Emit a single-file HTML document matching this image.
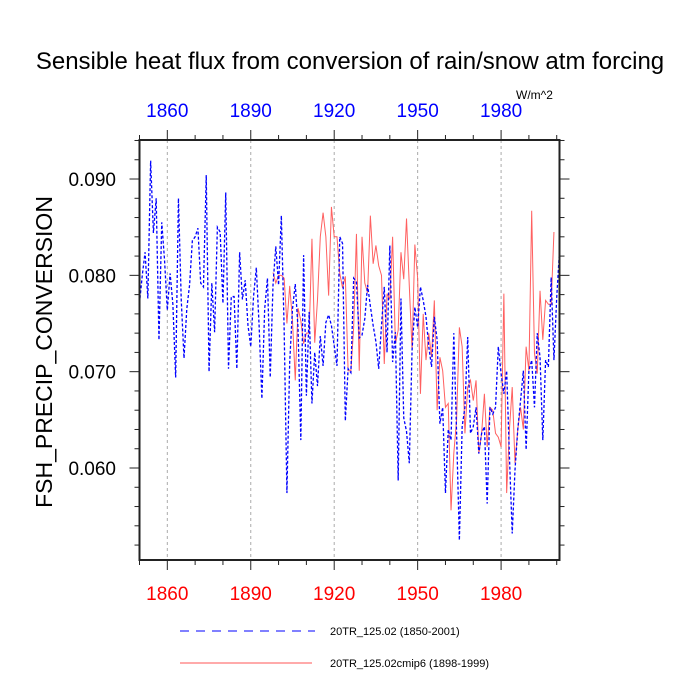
<!DOCTYPE html>
<html><head><meta charset="utf-8"><style>
html,body{margin:0;padding:0;background:#fff;}
svg{display:block;font-family:"Liberation Sans",Arial,sans-serif;}
</style></head><body>
<svg id="chart" width="700" height="700" viewBox="0 0 700 700">
<text x="350" y="69" text-anchor="middle" font-size="24">Sensible heat flux from conversion of rain/snow atm forcing</text>
<text x="516" y="99" font-size="12">W/m^2</text>
<text transform="translate(52,352) rotate(-90)" text-anchor="middle" font-size="23">FSH_PRECIP_CONVERSION</text>
<g id="grid"></g>
<g id="series"></g>
<rect x="139.5" y="140" width="420" height="420" fill="none" stroke="#222" stroke-width="2"/>
<g id="axes"></g>
<g>
<line x1="180" y1="631" x2="315" y2="631" stroke="#00f" stroke-width="1" stroke-dasharray="9,7"/>
<text x="330" y="635" font-size="11">20TR_125.02 (1850-2001)</text>
<line x1="180" y1="663" x2="312" y2="663" stroke="#f55" stroke-width="1"/>
<text x="330" y="667" font-size="11">20TR_125.02cmip6 (1898-1999)</text>
</g>
</svg>
<script>
const xTicks = [1860, 1890, 1920, 1950, 1980];
const yTicks = [0.060, 0.070, 0.080, 0.090];
const yTickLabels = ["0.060", "0.070", "0.080", "0.090"];
const blueStart = 1850;
const blueValues = [0.0771,0.0800,0.0824,0.0776,0.0919,0.0844,0.0880,0.0733,0.0855,0.0816,
0.0764,0.0802,0.0770,0.0694,0.0880,0.0775,0.0714,0.0765,0.0790,0.0836,
0.0840,0.0849,0.0792,0.0788,0.0904,0.0700,0.0792,0.0741,0.0850,0.0845,
0.0771,0.0886,0.0703,0.0778,0.0778,0.0703,0.0824,0.0775,0.0795,0.0748,
0.0726,0.0778,0.0808,0.0748,0.0672,0.0765,0.0797,0.0694,0.0790,0.0830,
0.0790,0.0862,0.0745,0.0574,0.0710,0.0765,0.0791,0.0745,0.0629,0.0821,
0.0675,0.0762,0.0667,0.0720,0.0685,0.0737,0.0706,0.0751,0.0759,0.0748,
0.0727,0.0706,0.0840,0.0833,0.0649,0.0703,0.0699,0.0797,0.0793,0.0735,
0.0738,0.0755,0.0790,0.0768,0.0748,0.0731,0.0703,0.0748,0.0788,0.0720,
0.0831,0.0710,0.0741,0.0587,0.0776,0.0652,0.0638,0.0605,0.0723,
0.0767,0.0746,0.0788,0.0774,0.0757,0.0726,0.0705,0.0757,0.0733,0.0646,
0.0663,0.0574,0.0640,0.0629,0.0740,0.0636,0.0525,0.0643,0.0663,0.0736,
0.0636,0.0643,0.0663,0.0615,0.0636,0.0643,0.0563,0.0663,0.0656,0.0663,
0.0726,0.0698,0.0677,0.0701,0.0612,0.0532,0.0598,0.0640,0.0670,0.0701,
0.0619,0.0701,0.0712,0.0663,0.0740,0.0715,0.0629,0.0712,0.0705,0.0798,
0.0712,0.0777,0.0826];
const redStart = 1898;
const redValues = [0.0803,0.0792,0.0800,0.0800,0.0797,0.0750,0.0789,0.0753,0.0691,0.0766,
0.0753,0.0729,0.0740,0.0740,0.0838,0.0730,0.0775,0.0840,0.0865,0.0840,
0.0779,0.0871,0.0840,0.0840,0.0802,0.0787,0.0799,0.0701,0.0701,0.0746,
0.0843,0.0701,0.0840,0.0792,0.0782,0.0862,0.0812,0.0831,0.0810,0.0800,
0.0708,0.0781,0.0775,0.0840,0.0729,0.0743,0.0824,0.0796,0.0859,0.0789,
0.0722,
0.0832,0.0797,0.0677,0.0760,0.0712,0.0740,0.0715,0.0774,0.0660,0.0715,
0.0701,0.0663,0.0667,0.0556,0.0615,0.0650,0.0746,0.0726,0.0636,0.0684,
0.0691,0.0670,0.0691,0.0615,0.0636,0.0677,0.0622,0.0663,0.0660,0.0636,
0.0632,0.0622,0.0781,0.0574,0.0640,0.0684,0.0605,0.0640,0.0663,0.0640,
0.0726,0.0701,0.0867,0.0719,0.0698,0.0784,0.0733,0.0774,0.0770,0.0770,
0.0845];

const NS = "http://www.w3.org/2000/svg";
const X0 = 139.5, X1 = 559.5, Y0 = 560, Y1 = 140;
const xMin = 1850, xMax = 2001, yMin = 0.05045, yMax = 0.09405;
function xs(v){ return X0 + (v - xMin) / (xMax - xMin) * (X1 - X0); }
function ys(v){ return Y0 - (v - yMin) / (yMax - yMin) * (Y0 - Y1); }
function mk(tag, attrs, parent){ const e = document.createElementNS(NS, tag); for (const k in attrs) e.setAttribute(k, attrs[k]); parent.appendChild(e); return e; }

const grid = document.getElementById('grid');
const axes = document.getElementById('axes');
const series = document.getElementById('series');

xTicks.forEach(t => {
  const g = mk('line', {x1: xs(t), x2: xs(t), y1: Y1, y2: Y0, stroke: '#aaa', 'stroke-width': 1, 'stroke-dasharray': '3,3'}, grid);
  
  
});
for (let yr = 1850; yr <= 2000; yr += 10) {
  const major = xTicks.includes(yr);
  const len = major ? 10 : 5;
  const b = mk('line', {x1: xs(yr), x2: xs(yr), y1: Y0, y2: Y0 + len, stroke: '#222', 'stroke-width': 1}, axes);
  
  
  const t = mk('line', {x1: xs(yr), x2: xs(yr), y1: Y1, y2: Y1 - len, stroke: '#222', 'stroke-width': 1}, axes);
  
  
}
xTicks.forEach(t => {
  const lb = mk('text', {x: xs(t), y: 600, 'text-anchor': 'middle', 'font-size': 19, fill: '#f00'}, axes);
  lb.textContent = t;
  
  
  const lt = mk('text', {x: xs(t), y: 117, 'text-anchor': 'middle', 'font-size': 19, fill: '#00f'}, axes);
  lt.textContent = t;
  
  
});
for (let k = 26; k <= 47; k++) {
  const v = k * 0.002;
  if (v < yMin || v > yMax) continue;
  const major = Math.abs(Math.round(v * 100) - v * 100) < 1e-6;
  const len = major ? 10 : 5;
  const l = mk('line', {x1: X0, x2: X0 - len, y1: ys(v), y2: ys(v), stroke: '#222', 'stroke-width': 1}, axes);
  
  
  const r = mk('line', {x1: X1, x2: X1 + len, y1: ys(v), y2: ys(v), stroke: '#222', 'stroke-width': 1}, axes);
  
  
}
yTicks.forEach((t, i) => {
  const lb = mk('text', {x: 116, y: ys(t) + 7, 'text-anchor': 'end', 'font-size': 19}, axes);
  lb.textContent = yTickLabels[i];
  
  
});

function pts(start, vals){ return vals.map((v, i) => xs(start + i).toFixed(2) + ',' + ys(v).toFixed(2)).join(' '); }
const red = mk('polyline', {points: pts(redStart, redValues), fill: 'none', stroke: '#f44', 'stroke-width': 1, 'stroke-opacity': 0.85}, series);


const blue = mk('polyline', {points: pts(blueStart, blueValues), fill: 'none', stroke: '#00f', 'stroke-width': 1.3, 'stroke-dasharray': '3,2'}, series);


</script>
</body></html>
